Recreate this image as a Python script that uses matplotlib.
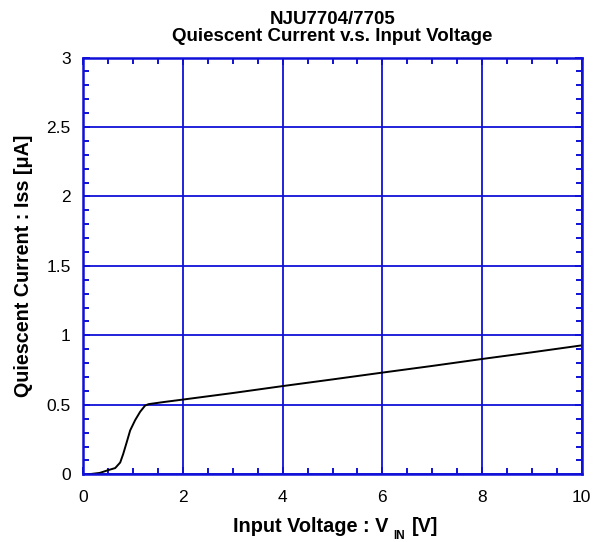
import matplotlib
matplotlib.use('Agg')
import matplotlib.pyplot as plt
from matplotlib.ticker import MultipleLocator

# Quiescent current vs input voltage
vin = [0.1, 0.33, 0.5, 0.64, 0.74, 0.8, 0.87, 0.94, 1.04, 1.14, 1.24, 1.31,
       1.61, 2.0, 3.0, 4.0, 5.0, 6.0, 7.0, 8.0, 9.0, 10.0]
iss = [0.0, 0.01, 0.03, 0.045, 0.085, 0.146, 0.23, 0.316, 0.39, 0.45, 0.495, 0.505,
       0.52, 0.538, 0.585, 0.635, 0.683, 0.732, 0.78, 0.83, 0.878, 0.928]

xticks = [0, 2, 4, 6, 8, 10]
yticks = [0, 0.5, 1, 1.5, 2, 2.5, 3]
yticklabels = ['0', '0.5', '1', '1.5', '2', '2.5', '3']

plt.rcParams['font.family'] = ['Liberation Sans', 'DejaVu Sans']

blue = '#1010d8'

fig = plt.figure(figsize=(5.99, 5.42), dpi=100)
ax = fig.add_axes([0.1391, 0.1249, 0.832, 0.769])

ax.plot(vin, iss, color='black', lw=1.4)

ax.set_xlim(0, 10)
ax.set_ylim(0, 3)
ax.set_xticks(xticks)
ax.set_xticklabels([str(v) for v in xticks])
ax.set_yticks(yticks)
ax.set_yticklabels(yticklabels)
ax.xaxis.set_minor_locator(MultipleLocator(0.5))
ax.yaxis.set_minor_locator(MultipleLocator(0.1))

ax.grid(True, which='major', color=blue, lw=1.3)
for s in ax.spines.values():
    s.set_color(blue)
    s.set_linewidth(1.8)
ax.tick_params(which='both', direction='in', top=True, right=True, colors=blue,
               labelcolor='black', labelsize=12.5, width=1.4)
ax.tick_params(which='major', length=5)
ax.tick_params(which='minor', length=4.5)
ax.tick_params(axis='x', which='major', pad=11.5)
ax.tick_params(axis='y', which='major', pad=9)

ax.set_title('NJU7704/7705\nQuiescent Current v.s. Input Voltage',
             fontsize=13.5, fontweight='bold', pad=12, linespacing=1.0)
ax.set_ylabel('Quiescent Current : Iss [\u03bcA]', fontsize=14.2,
              fontweight='bold', labelpad=10)

# x label with a dropped subscript, built from three pieces
t1 = fig.text(0.3885, 0.0185, 'Input Voltage : V', fontsize=14.3,
              fontweight='bold', ha='left', va='baseline')
fig.canvas.draw()
r = fig.canvas.get_renderer()
bb = t1.get_window_extent(r)
t2 = fig.text((bb.x1 + 5) / fig.bbox.width, 0.006, 'IN', fontsize=8.5,
              fontweight='bold', ha='left', va='baseline')
bb2 = t2.get_window_extent(r)
fig.text((bb2.x1 + 7) / fig.bbox.width, 0.0185, '[V]', fontsize=14.3,
         fontweight='bold', ha='left', va='baseline')

fig.savefig('out.png', dpi=100)
